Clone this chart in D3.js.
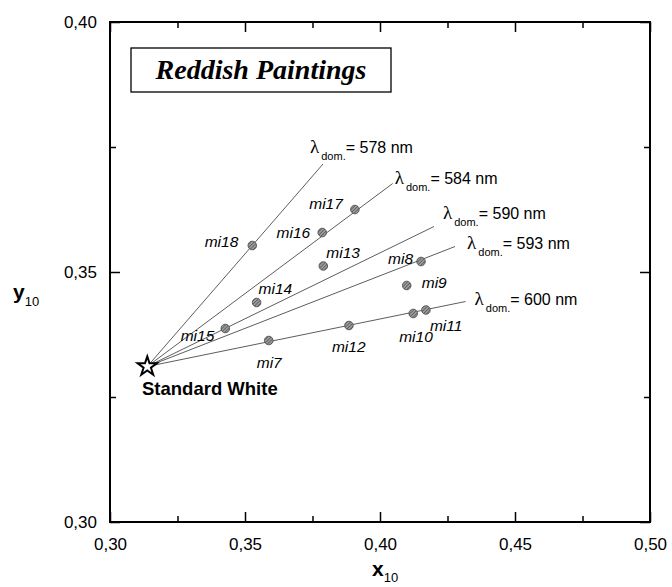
<!DOCTYPE html>
<html>
<head>
<meta charset="utf-8">
<script src="https://cdn.jsdelivr.net/npm/d3@7"></script>
<style>
  body { margin: 0; background: #fff; }
  svg { font-family: "Liberation Sans", Arial, sans-serif; }
</style>
</head>
<body>
<div id="chart"></div>
<script>
// chromaticity data (CIE 1964, x10 / y10)
const xTicks = [0.30, 0.35, 0.40, 0.45, 0.50];
const yTicks = [0.30, 0.35, 0.40];
const xMinor = [0.325, 0.375, 0.425, 0.475];
const yMinor = [0.325, 0.375];

const whitePoint = [0.3138, 0.3311];

const samples = ["mi7", "mi8", "mi9", "mi10", "mi11", "mi12", "mi13", "mi14", "mi15", "mi16", "mi17", "mi18"];
const sampleX = [0.3588, 0.4152, 0.4099, 0.4123, 0.4170, 0.3885, 0.3790, 0.3543, 0.3427, 0.3786, 0.3907, 0.3527];
const sampleY = [0.3363, 0.3521, 0.3473, 0.3417, 0.3424, 0.3393, 0.3512, 0.3439, 0.3387, 0.3579, 0.3625, 0.3553];

const wavelengths = [578, 584, 590, 593, 600];
const lineEndX = [0.3789, 0.4047, 0.4200, 0.4278, 0.4317];
const lineEndY = [0.3716, 0.3677, 0.3591, 0.3551, 0.3441];

// label placement (px, relative to the mark)
const sampleLabelPos = {
  mi7: [-12, 27, "start"], mi8: [-8, 2, "end"], mi9: [15, 2, "start"],
  mi10: [-14, 28, "start"], mi11: [4, 21, "start"], mi12: [-17, 26, "start"],
  mi13: [3, -8, "start"], mi14: [2, -9, "start"], mi15: [-11, 12, "end"],
  mi16: [-12, 5, "end"], mi17: [-12, -1, "end"], mi18: [-14, 1, "end"]
};
const lambdaLabelPos = [[-13, -11], [2, 0], [9, -8], [12, 2], [9, 3]];

const width = 672, height = 587;
const margin = { top: 22, right: 22, bottom: 65, left: 110 };
const serif = '"Liberation Serif", "Times New Roman", serif';

const svg = d3.select("#chart").append("svg")
  .attr("width", width)
  .attr("height", height);

const defs = svg.append("defs");
const hatch = defs.append("pattern")
  .attr("id", "hatch")
  .attr("width", 2.4).attr("height", 2.4)
  .attr("patternUnits", "userSpaceOnUse")
  .attr("patternTransform", "rotate(45)");
hatch.append("rect").attr("width", 2.4).attr("height", 2.4).attr("fill", "#9c9c9c");
hatch.append("line").attr("x1", 0).attr("y1", 0).attr("x2", 0).attr("y2", 2.4)
  .attr("stroke", "#333").attr("stroke-width", 1);

const x = d3.scaleLinear().domain([0.30, 0.50]).range([margin.left, width - margin.right]);
const y = d3.scaleLinear().domain([0.30, 0.40]).range([height - margin.bottom, margin.top]);

const fmt = d => d3.format(".2f")(d).replace(".", ",");

// axes with inward ticks
function styleAxis(g) {
  g.select(".domain").remove();
  g.selectAll(".tick line").attr("stroke", "#000").attr("stroke-width", 1.5);
  g.selectAll(".tick text").attr("font-size", 17).attr("font-family", null).attr("fill", "#000");
}

svg.append("g").attr("transform", `translate(0,${y(0.30)})`)
  .call(d3.axisBottom(x).tickValues(xTicks).tickSizeInner(-10).tickSizeOuter(0).tickPadding(16).tickFormat(fmt))
  .call(styleAxis);
svg.append("g").attr("transform", `translate(0,${y(0.30)})`)
  .call(d3.axisBottom(x).tickValues(xMinor).tickSizeInner(-6).tickSizeOuter(0).tickFormat(""))
  .call(styleAxis);
svg.append("g").attr("transform", `translate(0,${y(0.40)})`)
  .call(d3.axisTop(x).tickValues(xTicks).tickSizeInner(-10).tickSizeOuter(0).tickFormat(""))
  .call(styleAxis);
svg.append("g").attr("transform", `translate(0,${y(0.40)})`)
  .call(d3.axisTop(x).tickValues(xMinor).tickSizeInner(-6).tickSizeOuter(0).tickFormat(""))
  .call(styleAxis);

svg.append("g").attr("transform", `translate(${x(0.30)},0)`)
  .call(d3.axisLeft(y).tickValues(yTicks).tickSizeInner(-10).tickSizeOuter(0).tickPadding(13).tickFormat(fmt))
  .call(styleAxis);
svg.append("g").attr("transform", `translate(${x(0.30)},0)`)
  .call(d3.axisLeft(y).tickValues(yMinor).tickSizeInner(-6).tickSizeOuter(0).tickFormat(""))
  .call(styleAxis);
svg.append("g").attr("transform", `translate(${x(0.50)},0)`)
  .call(d3.axisRight(y).tickValues(yTicks).tickSizeInner(-10).tickSizeOuter(0).tickFormat(""))
  .call(styleAxis);
svg.append("g").attr("transform", `translate(${x(0.50)},0)`)
  .call(d3.axisRight(y).tickValues(yMinor).tickSizeInner(-6).tickSizeOuter(0).tickFormat(""))
  .call(styleAxis);

// frame
svg.append("rect")
  .attr("x", x(0.30)).attr("y", y(0.40))
  .attr("width", x(0.50) - x(0.30)).attr("height", y(0.30) - y(0.40))
  .attr("fill", "none").attr("stroke", "#000").attr("stroke-width", 2);

// axis titles
const xt = svg.append("text")
  .attr("x", (x(0.30) + x(0.50)) / 2 - 8).attr("y", 576)
  .attr("font-size", 21).attr("font-weight", "bold");
xt.append("tspan").text("x");
xt.append("tspan").attr("dy", 6).attr("font-size", 13).attr("font-weight", "normal").text("10");

const yt = svg.append("text")
  .attr("x", 13).attr("y", 299)
  .attr("font-size", 21).attr("font-weight", "bold");
yt.append("tspan").text("y");
yt.append("tspan").attr("dy", 7).attr("font-size", 13).attr("font-weight", "normal").text("10");

// title box
svg.append("rect")
  .attr("x", 131).attr("y", 48).attr("width", 260).attr("height", 44)
  .attr("fill", "#fff").attr("stroke", "#000").attr("stroke-width", 1.3);
svg.append("text")
  .attr("x", 261).attr("y", 79)
  .attr("text-anchor", "middle")
  .style("font-family", serif)
  .attr("font-size", 28).attr("font-weight", "bold").attr("font-style", "italic")
  .text("Reddish Paintings");

// dominant wavelength lines
const lines = wavelengths.map((w, i) => ({ w, x: lineEndX[i], y: lineEndY[i], pos: lambdaLabelPos[i] }));

svg.append("g").selectAll("line")
  .data(lines)
  .enter()
  .append("line")
  .attr("x1", x(whitePoint[0])).attr("y1", y(whitePoint[1]))
  .attr("x2", d => x(d.x)).attr("y2", d => y(d.y))
  .attr("stroke", "#333").attr("stroke-width", 0.8);

const lam = svg.append("g").selectAll("text")
  .data(lines)
  .enter()
  .append("text")
  .attr("x", d => x(d.x) + d.pos[0])
  .attr("y", d => y(d.y) + d.pos[1])
  .attr("font-size", 16);
lam.append("tspan")
  .style("font-family", serif)
  .attr("font-size", 19)
  .text("λ");
lam.append("tspan")
  .attr("dx", 2).attr("dy", 7).attr("font-size", 11)
  .text("dom.");
lam.append("tspan")
  .attr("dy", -7)
  .text(d => `= ${d.w} nm`);

// sample points
const points = samples.map((s, i) => ({ s, x: sampleX[i], y: sampleY[i] }));

svg.append("g").selectAll("circle")
  .data(points)
  .enter()
  .append("circle")
  .attr("cx", d => x(d.x)).attr("cy", d => y(d.y))
  .attr("r", 4.3)
  .attr("fill", "url(#hatch)")
  .attr("stroke", "#444").attr("stroke-width", 0.8);

svg.append("g").selectAll("text")
  .data(points)
  .enter()
  .append("text")
  .attr("x", d => x(d.x) + sampleLabelPos[d.s][0])
  .attr("y", d => y(d.y) + sampleLabelPos[d.s][1])
  .attr("text-anchor", d => sampleLabelPos[d.s][2])
  .attr("font-size", 15.5).attr("font-style", "italic")
  .text(d => d.s);

// standard white
svg.append("path")
  .attr("d", d3.symbol().type(d3.symbolStar).size(115)())
  .attr("transform", `translate(${x(whitePoint[0])},${y(whitePoint[1])})`)
  .attr("fill", "#fff").attr("stroke", "#000").attr("stroke-width", 2);

svg.append("text")
  .attr("x", 142).attr("y", 395)
  .attr("font-size", 18.5).attr("font-weight", "bold")
  .text("Standard White");
</script>
</body>
</html>
